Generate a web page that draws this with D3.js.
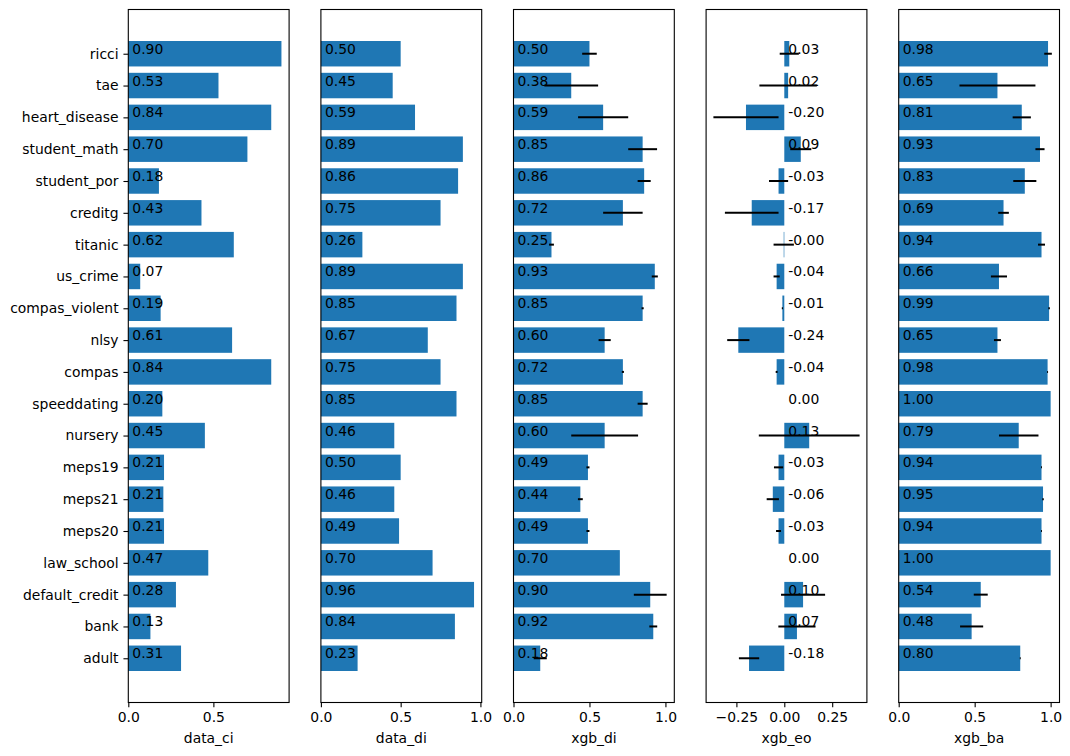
<!DOCTYPE html>
<html>
<head>
<meta charset="utf-8">
<script src="https://cdn.jsdelivr.net/npm/d3@7"></script>
<style>
  body { margin: 0; background: #fff; }
  svg { display: block; }
  text { font-family: "DejaVu Sans", sans-serif; }
</style>
</head>
<body>
<svg id="chart" width="1070" height="756"></svg>
<script>
// datasets, bottom to top
const datasets = ['adult', 'bank', 'default_credit', 'law_school', 'meps20', 'meps21', 'meps19',
  'nursery', 'speeddating', 'compas', 'nlsy', 'compas_violent', 'us_crime', 'titanic', 'creditg',
  'student_por', 'student_math', 'heart_disease', 'tae', 'ricci'];

const data_ci = [0.31, 0.13, 0.28, 0.47, 0.21, 0.206, 0.21, 0.45, 0.20, 0.84, 0.61, 0.19, 0.07, 0.62, 0.43,
  0.18, 0.70, 0.84, 0.53, 0.90];
const data_di = [0.23, 0.84, 0.96, 0.70, 0.49, 0.46, 0.50, 0.46, 0.85, 0.75, 0.67, 0.85, 0.89, 0.26, 0.75,
  0.86, 0.89, 0.59, 0.45, 0.50];
const xgb_di = [0.176, 0.92, 0.90, 0.70, 0.49, 0.44, 0.49, 0.60, 0.85, 0.72, 0.60, 0.85, 0.93, 0.25, 0.72,
  0.86, 0.85, 0.59, 0.38, 0.50];
const xgb_di_err = [0.043, 0.026, 0.108, 0, 0.01, 0.016, 0.01, 0.22, 0.033, 0.007, 0.04, 0.007, 0.02, 0.016, 0.13,
  0.043, 0.095, 0.165, 0.177, 0.048];
const xgb_eo = [-0.184, 0.066, 0.098, 0, -0.03, -0.06, -0.03, 0.13, 0, -0.04, -0.24, -0.01, -0.04, -0.003, -0.17,
  -0.03, 0.086, -0.20, 0.02, 0.026];
const xgb_eo_err = [0.053, 0.097, 0.115, 0, 0.013, 0.032, 0.024, 0.263, 0, 0.005, 0.058, 0.003, 0.016, 0.053, 0.14,
  0.05, 0.055, 0.17, 0.15, 0.05];
const xgb_ba = [0.80, 0.48, 0.54, 1.00, 0.94, 0.95, 0.94, 0.79, 1.00, 0.98, 0.65, 0.99, 0.66, 0.94, 0.69,
  0.83, 0.93, 0.81, 0.65, 0.983];
const xgb_ba_err = [0.003, 0.076, 0.046, 0, 0.003, 0.005, 0.003, 0.13, 0, 0.003, 0.023, 0.005, 0.053, 0.023, 0.035,
  0.076, 0.03, 0.06, 0.25, 0.025];

const ticks01 = [0, 0.5, 1.0];
const ticksCi = [0, 0.5];
const ticksEo = [-0.25, 0, 0.25];

const panels = [
  { name: 'data_ci', values: data_ci, errors: null, ticks: ticksCi, fmt: '.1f' },
  { name: 'data_di', values: data_di, errors: null, ticks: ticks01, fmt: '.1f' },
  { name: 'xgb_di', values: xgb_di, errors: xgb_di_err, ticks: ticks01, fmt: '.1f' },
  { name: 'xgb_eo', values: xgb_eo, errors: xgb_eo_err, ticks: ticksEo, fmt: '.2f' },
  { name: 'xgb_ba', values: xgb_ba, errors: xgb_ba_err, ticks: ticks01, fmt: '.1f' },
];

const svg = d3.select('#chart');
const plotTop = 9.5, plotBottom = 702.5, panelW = 160.8, firstLeft = 128.3, step = 192.6;
const fontSize = 13.9, tick = 4.86;
const barH = 0.8;
const n = datasets.length;

// matplotlib-like limits: 5% margins, sticky at 0 for bars
function limits(values, errors) {
  let lo = 0, hi = 0;
  values.forEach((v, i) => {
    const e = errors ? errors[i] : 0;
    lo = Math.min(lo, v - e);
    hi = Math.max(hi, v + e);
  });
  const pad = (hi - lo) * 0.05;
  return [lo < 0 ? lo - pad : 0, hi > 0 ? hi + pad : 0];
}

const ySpan = (n - 1) + barH;
const y = d3.scaleLinear()
  .domain([-barH / 2 - 0.05 * ySpan, n - 1 + barH / 2 + 0.05 * ySpan])
  .range([plotBottom, plotTop]);

panels.forEach((p, k) => {
  const left = firstLeft + k * step;
  const g = svg.append('g').attr('transform', `translate(${left},0)`);
  const x = d3.scaleLinear().domain(limits(p.values, p.errors)).range([0, panelW]);
  const rows = p.values.map((v, i) => ({ i, v, e: p.errors ? p.errors[i] : 0 }));

  g.selectAll('rect.bar')
    .data(rows)
    .enter()
    .append('rect')
    .attr('class', 'bar')
    .attr('x', d => Math.min(x(0), x(d.v)))
    .attr('y', d => y(d.i + barH / 2))
    .attr('width', d => Math.abs(x(d.v) - x(0)))
    .attr('height', y(0) - y(barH))
    .attr('fill', '#1f77b4');

  g.selectAll('line.err')
    .data(rows.filter(d => d.e > 0))
    .enter()
    .append('line')
    .attr('class', 'err')
    .attr('x1', d => x(d.v - d.e))
    .attr('x2', d => x(d.v + d.e))
    .attr('y1', d => y(d.i))
    .attr('y2', d => y(d.i))
    .attr('stroke', 'black')
    .attr('stroke-width', 2);

  g.selectAll('text.val')
    .data(rows)
    .enter()
    .append('text')
    .attr('class', 'val')
    .attr('x', x(0) + 4)
    .attr('y', d => y(d.i))
    .attr('font-size', fontSize)
    .attr('fill', 'black')
    .text(d => d.v.toFixed(2));

  const xAxis = g.append('g')
    .attr('transform', `translate(0,${plotBottom})`)
    .call(d3.axisBottom(x).tickValues(p.ticks).tickFormat(d3.format(p.fmt))
      .tickSize(tick).tickPadding(tick));
  xAxis.select('.domain').remove();
  xAxis.selectAll('line').attr('stroke-width', 1.1);
  xAxis.selectAll('text').attr('font-size', fontSize).attr('font-family', '"DejaVu Sans", sans-serif');

  if (k === 0) {
    const yAxis = g.append('g')
      .call(d3.axisLeft(y).tickValues(d3.range(n)).tickFormat(i => datasets[i])
        .tickSize(tick).tickPadding(tick));
    yAxis.select('.domain').remove();
    yAxis.selectAll('line').attr('stroke-width', 1.1);
    yAxis.selectAll('text').attr('font-size', fontSize).attr('font-family', '"DejaVu Sans", sans-serif');
  }

  g.append('text')
    .attr('x', panelW / 2)
    .attr('y', 743)
    .attr('text-anchor', 'middle')
    .attr('font-size', fontSize)
    .text(p.name);

  g.append('rect')
    .attr('x', 0)
    .attr('y', plotTop)
    .attr('width', panelW)
    .attr('height', plotBottom - plotTop)
    .attr('fill', 'none')
    .attr('stroke', 'black')
    .attr('stroke-width', 1.1);
});
</script>
</body>
</html>
